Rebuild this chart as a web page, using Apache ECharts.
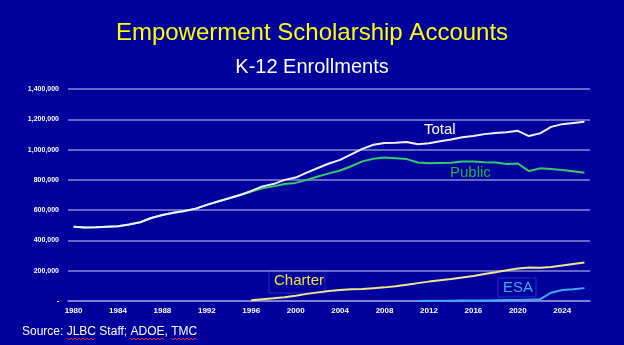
<!DOCTYPE html>
<html><head><meta charset="utf-8">
<script src="https://cdn.jsdelivr.net/npm/echarts@6/dist/echarts.min.js"></script>
<style>html,body{margin:0;padding:0;background:#00009C;}#c{width:624px;height:345px;}</style>
</head><body><div id="c"></div>
<script>
var years = [];
for (var y = 1980; y <= 2026; y++) years.push(String(y));
var yTicks = ['-', '200,000', '400,000', '600,000', '800,000', '1,000,000', '1,200,000', '1,400,000'];
// thousands of students
var total = [490,485,487,490,493,505,520,548,568,583,595,610,635,657,678,700,
  727,757,772,800,815,848,878,908,932,968,1005,1032,1043,1045,1050,1035,1042,1055,
  1067,1082,1090,1102,1110,1115,1124,1089,1107,1150,1168,1176,1183];
var publicS = [490,485,487,490,493,505,520,548,568,583,595,610,635,657,678,700,
  722,745,757,773,780,800,822,843,862,890,922,940,948,943,937,915,910,912,
  913,922,922,917,915,905,908,858,876,872,865,857,847];
var charter = [null,null,null,null,null,null,null,null,null,null,null,null,null,null,null,null,
  5,12,18,25,35,47,57,66,72,77,80,85,90,98,108,118,128,137,145,155,165,178,190,203,215,222,220,225,235,245,255];
var esa = [null,null,null,null,null,null,null,null,null,null,null,null,null,null,null,null,
  null,null,null,null,null,null,null,null,null,null,null,null,null,null,null,0.3,1,1.5,2,2.5,3,4,5,6,7,9,11,55,72,78,85];
function k(a){return a.map(function(v){return v==null?null:v*1000;});}
function squiggle(x0, x1, yb){
  var pts = [], up = true;
  for (var x = x0; x <= x1; x += 2) { pts.push([x, up ? yb - 1 : yb + 1]); up = !up; }
  return {type:'polyline', shape:{points:pts}, style:{stroke:'#E03030', lineWidth:1, fill:null}};
}
var chart = echarts.init(document.getElementById('c'), null, {renderer:'canvas'});
var ff = 'Liberation Sans, Arial, sans-serif';
chart.setOption({
  backgroundColor:'#00009C',
  animation:false,
  title:[
    {text:'Empowerment Scholarship Accounts', left:'center', top:16,
     textStyle:{color:'#FFFF00', fontSize:24, fontWeight:'normal', fontFamily:ff}},
    {text:'K-12 Enrollments', left:'center', top:52,
     textStyle:{color:'#FFFFFF', fontSize:20, fontWeight:'normal', fontFamily:ff}}
  ],
  grid:{left:68, right:34, top:89, bottom:44},
  xAxis:{type:'category', data:years, boundaryGap:true,
    axisLine:{lineStyle:{color:'#8A8AD6', width:1.5}}, axisTick:{show:false},
    axisLabel:{color:'#FFFFFF', fontSize:8, fontWeight:'bold', interval:3, margin:6, fontFamily:ff}},
  yAxis:{type:'value', min:0, max:1400000, interval:200000,
    axisLine:{show:false}, axisTick:{show:false},
    splitLine:{lineStyle:{color:'#8A8AD6', width:1.5}},
    axisLabel:{color:'#FFFFFF', fontSize:7, fontWeight:'bold', margin:9, fontFamily:ff,
      formatter:function(v){return yTicks[Math.round(v/200000)];}}},
  series:[
    {name:'Public', type:'line', data:k(publicS), symbol:'none', lineStyle:{color:'#33CC66', width:2}},
    {name:'Total', type:'line', data:k(total), symbol:'none', lineStyle:{color:'#F2F2FF', width:2}},
    {name:'Charter', type:'line', data:k(charter), symbol:'none', lineStyle:{color:'#F0E68C', width:2}},
    {name:'ESA', type:'line', data:k(esa), symbol:'none', lineStyle:{color:'#3FA9F5', width:2}}
  ],
  graphic:[
    {type:'text', left:424, top:122, style:{text:'Total', fill:'#FFFFFF', fontSize:15, fontFamily:ff}},
    {type:'text', left:450, top:165, style:{text:'Public', fill:'#22B04A', fontSize:15, fontFamily:ff}},
    {type:'rect', shape:{x:269, y:271, width:56, height:22}, style:{fill:'#00009C', stroke:'#2B2BC8', lineWidth:1}},
    {type:'text', left:274, top:273, style:{text:'Charter', fill:'#F0E040', fontSize:15, fontFamily:ff}},
    {type:'rect', shape:{x:498, y:278, width:38, height:19}, style:{fill:'#00009C', stroke:'#2B2BC8', lineWidth:1}},
    {type:'text', left:503, top:280, style:{text:'ESA', fill:'#3FA9F5', fontSize:15, fontFamily:ff}},
    {type:'text', left:22, top:326, style:{text:'Source: JLBC Staff; ADOE, TMC', fill:'#FFFFFF', fontSize:12, fontFamily:ff}},
    squiggle(67, 96, 339),
    squiggle(130, 164, 339),
    squiggle(171, 197, 339)
  ]
});
</script></body></html>
